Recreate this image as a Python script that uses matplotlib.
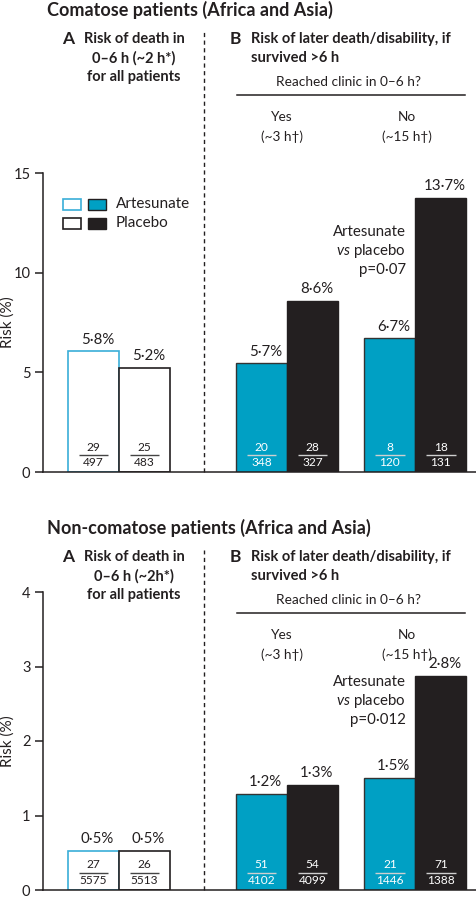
import matplotlib
matplotlib.use("Agg")
import matplotlib.pyplot as plt
from matplotlib.patches import Rectangle
from matplotlib.lines import Line2D
import matplotlib.transforms as mtransforms

# ---------------- data ----------------
groups = ["A", "Yes", "No"]
com_art = [6.05, 5.45, 6.7]
com_pla = [5.2, 8.6, 13.75]
com_art_lbl = ["5·8%", "5·7%", "6·7%"]
com_pla_lbl = ["5·2%", "8·6%", "13·7%"]
com_art_num = ["29", "20", "8"]
com_art_den = ["497", "348", "120"]
com_pla_num = ["25", "28", "18"]
com_pla_den = ["483", "327", "131"]

non_art = [0.53, 1.29, 1.50]
non_pla = [0.53, 1.41, 2.87]
non_art_lbl = ["0·5%", "1·2%", "1·5%"]
non_pla_lbl = ["0·5%", "1·3%", "2·8%"]
non_art_num = ["27", "51", "21"]
non_art_den = ["5575", "4102", "1446"]
non_pla_num = ["26", "54", "71"]
non_pla_den = ["5513", "4099", "1388"]

com_ticks = [0, 5, 10, 15]
non_ticks = [0, 1, 2, 3, 4]

# ---------------- style ----------------
W, H = 476, 899
TXT = "#231F20"
TEAL = "#00A0C4"
LBLUE = "#3AAED8"
BLACK = "#231F20"
FONT = "Lato"

plt.rcParams["font.family"] = [FONT, "DejaVu Sans"]
plt.rcParams["text.color"] = TXT
plt.rcParams["mathtext.fontset"] = "custom"
plt.rcParams["mathtext.it"] = "Lato:italic"
plt.rcParams["mathtext.rm"] = "Lato"

fig = plt.figure(figsize=(W / 100, H / 100), dpi=100)


def px(x, y):
    return x / W, 1 - y / H


def ftxt(x, y, s, **kw):
    kw.setdefault("va", "center")
    kw.setdefault("color", TXT)
    fig.text(*px(x, y), s, **kw)


centers = [1.49, 4.785, 7.30]
bw = 1.0
XMAX = 433 / 51
pline_text = {0: "p=0·07", 518: "p=0·012"}


def panel(ax_rect, art, pla, art_lbl, pla_lbl, an, ad, pn, pd, ticks, dy,
          title, hdrA2, pline, dash_top):
    ax = fig.add_axes(ax_rect)
    ax.set_xlim(0, XMAX)
    ax.set_ylim(0, ticks[-1])
    for s in ["top", "right"]:
        ax.spines[s].set_visible(False)
    for s in ["left", "bottom"]:
        ax.spines[s].set_color(TXT)
        ax.spines[s].set_linewidth(1.1)
    ax.set_xticks([])
    ax.set_yticks(ticks)
    ax.tick_params(axis="y", length=5.5, width=1.1, color=TXT, pad=3.5,
                   labelsize=10.5, labelcolor=TXT)

    for i, c in enumerate(centers):
        xa, xp = c - bw / 2, c + bw / 2
        if i == 0:
            ax.bar(xa, art[i], bw, facecolor="white", edgecolor=LBLUE, linewidth=1.2, zorder=2)
            ax.bar(xp, pla[i], bw, facecolor="white", edgecolor=BLACK, linewidth=1.2, zorder=2)
            fc, lc = TXT, "#444444"
        else:
            ax.bar(xa, art[i], bw, facecolor=TEAL, edgecolor="#333333", linewidth=1.0, zorder=2)
            ax.bar(xp, pla[i], bw, facecolor=BLACK, edgecolor=BLACK, linewidth=1.0, zorder=2)
            fc, lc = "white", "#cfcfcf"
        for x, v, lbl, num, den in [(xa, art[i], art_lbl[i], an[i], ad[i]),
                                    (xp, pla[i], pla_lbl[i], pn[i], pd[i])]:
            ax.annotate(lbl, (x + 0.08, v), xytext=(0, 3.5), textcoords="offset points",
                        ha="center", va="bottom", fontsize=10.8, color=TXT, zorder=3)
            ax.annotate(num, (x, 0), xytext=(0, 18), textcoords="offset points",
                        ha="center", va="center", fontsize=8.6, color=fc, zorder=3)
            ax.annotate(den, (x, 0), xytext=(0, 7.0), textcoords="offset points",
                        ha="center", va="center", fontsize=8.6, color=fc, zorder=3)
            tr = mtransforms.offset_copy(ax.transData, fig=fig, x=0, y=12.6, units="points")
            ax.plot([x - 0.29, x + 0.29], [0, 0], color=lc, lw=1.0, transform=tr,
                    solid_capstyle="butt", zorder=3)

    # dashed separator
    y0_px = H * (1 - ax_rect[1])
    ytop_ax = (y0_px - dash_top) / (ax_rect[3] * H)
    ax.axvline((204 - 43) / 51, ymin=0, ymax=ytop_ax, color=TXT, lw=1.0,
               ls=(0, (3, 2.5)), clip_on=False, zorder=1)

    # headers
    ftxt(47, 10 + dy, title, ha="left", fontsize=13, fontweight="bold")
    ftxt(68, 39 + dy, "A", ha="center", fontsize=12.5, fontweight="bold")
    ftxt(134, 39 + dy, "Risk of death in", ha="center", fontsize=10.5, fontweight="bold")
    ftxt(134, 58.5 + dy, hdrA2, ha="center", fontsize=10.5, fontweight="bold")
    ftxt(134, 77 + dy, "for all patients", ha="center", fontsize=10.5, fontweight="bold")
    ftxt(235, 39 + dy, "B", ha="center", fontsize=12.5, fontweight="bold")
    ftxt(251, 39 + dy, "Risk of later death/disability, if", ha="left", fontsize=10.5, fontweight="bold")
    ftxt(251, 58.5 + dy, "survived >6 h", ha="left", fontsize=10.5, fontweight="bold")
    ftxt(349, 82 + dy, "Reached clinic in 0–6 h?", ha="center", fontsize=9.8)
    fig.add_artist(Line2D([237 / W, 465 / W], [1 - (95 + dy) / H] * 2, color=TXT, lw=1.1))
    ftxt(282, 117 + dy, "Yes", ha="center", fontsize=9.8)
    ftxt(282, 137 + dy, "(~3 h†)", ha="center", fontsize=9.8)
    ftxt(407, 117 + dy, "No", ha="center", fontsize=9.8)
    ftxt(407, 137 + dy, "(~15 h†)", ha="center", fontsize=9.8)

    # p-value annotation
    py = pline
    ftxt(406, py, "Artesunate", ha="right", fontsize=10.8)
    fig.text(*px(406, py + 19), r"$\it{vs}$ placebo", ha="right", va="center",
             fontsize=10.8, color=TXT)
    ftxt(406, py + 38, pline_text[dy], ha="right", fontsize=10.8)

    # y label
    ctr = H * (1 - ax_rect[1] - ax_rect[3] / 2)
    ftxt(8, ctr, "Risk (%)", ha="center", rotation=90, fontsize=11)
    return ax


top_rect = [43 / W, 1 - 472 / H, 433 / W, (472 - 173) / H]
bot_rect = [43 / W, 1 - 890 / H, 433 / W, (890 - 592) / H]

panel(top_rect, com_art, com_pla, com_art_lbl, com_pla_lbl,
      com_art_num, com_art_den, com_pla_num, com_pla_den, com_ticks, 0,
      "Comatose patients (Africa and Asia)", "0–6 h (~2 h*)", 232, 30)
panel(bot_rect, non_art, non_pla, non_art_lbl, non_pla_lbl,
      non_art_num, non_art_den, non_pla_num, non_pla_den, non_ticks, 518,
      "Non-comatose patients (Africa and Asia)", "0–6 h (~2h*)", 682, 550)

# legend (drawn in figure pixels)
for row, (lab, edge_o, fill) in enumerate([("Artesunate", LBLUE, TEAL), ("Placebo", BLACK, BLACK)]):
    yc = 204 + row * 19
    x0, y0 = px(63, yc + 5.5)
    fig.add_artist(Rectangle((x0, y0), 18 / W, 11 / H, transform=fig.transFigure,
                             facecolor="white", edgecolor=edge_o, lw=1.2))
    x1, _ = px(88, yc + 5.5)
    fig.add_artist(Rectangle((x1, y0), 18 / W, 11 / H, transform=fig.transFigure,
                             facecolor=fill, edgecolor=BLACK, lw=1.0))
    ftxt(116, yc, lab, ha="left", fontsize=11)

fig.savefig("out.png", dpi=100)
